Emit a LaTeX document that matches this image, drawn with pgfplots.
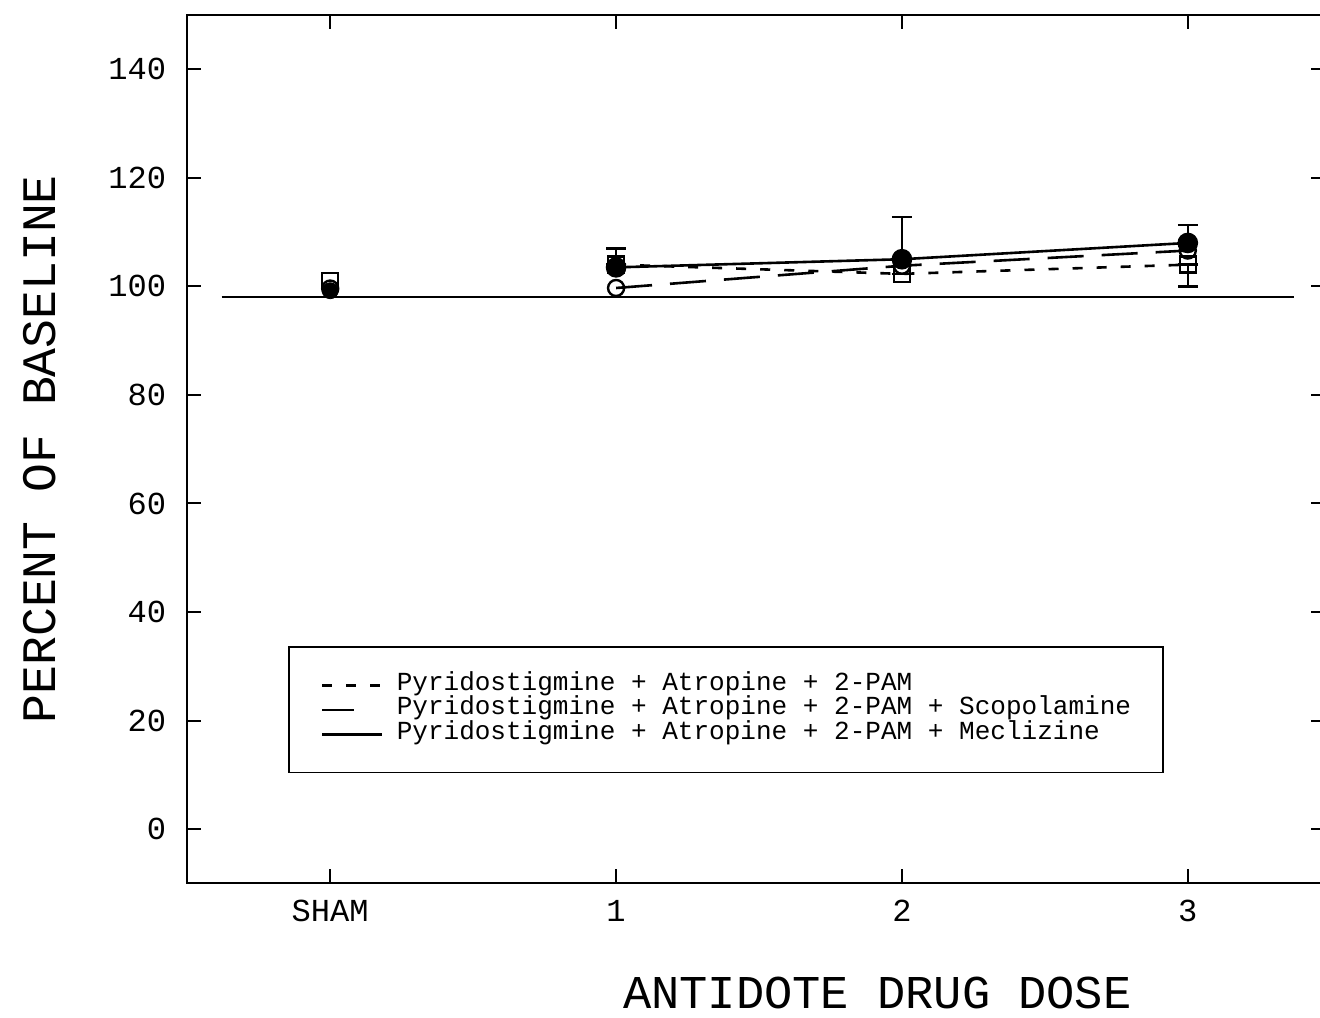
\documentclass[border=0pt]{standalone}
\usepackage{fontspec}
\setmainfont{Liberation Mono}
\setmonofont{Liberation Mono}
\usepackage{pgfplots}
\pgfplotsset{compat=1.18}
\begin{document}
\begin{tikzpicture}
\begin{axis}[
  scale only axis, width=568pt, height=433.5pt,
  at={(0pt,0pt)}, anchor=south west,
  xmin=-0.5, xmax=3.48, ymin=-10, ymax=150,
  xtick={0,1,2,3}, xticklabels={SHAM,1,2,3},
  ytick={0,20,40,60,80,100,120,140},
  xtick pos=both, ytick pos=both,
  xticklabel pos=lower, yticklabel pos=left,
  tick align=inside, major tick length=7pt,
  axis line style={line width=1pt},
  every tick/.style={black, line width=1pt},
  /pgf/number format/assume math mode=true,
  ticklabel style={font=\fontsize{16}{16}\selectfont},
  yticklabel style={xshift=-7pt},
  xticklabel style={yshift=-5pt},
  legend cell align=left,
  legend image code/.code={\draw[#1] (0pt,0pt) -- (30pt,0pt);},
  legend style={at={(axis cs:-0.147,33.7)}, anchor=north west, draw=black, line width=0.8pt,
    font=\fontsize{13}{13}\selectfont, inner xsep=16pt, inner ysep=13pt,
    nodes={inner sep=0pt, text height=8.5pt, text depth=3.75pt},
    /tikz/every odd column/.append style={column sep=6.5pt}},
]
% baseline reference line
\addplot[black, line width=1pt, forget plot] coordinates {(-0.38,98) (3.37,98)};
% SHAM points
\addplot[black, only marks, mark=square, mark size=4pt, mark options={line width=1.2pt}, forget plot] coordinates {(0,101)};
\addplot[black, only marks, mark=*, mark size=4pt, forget plot] coordinates {(0,99.2)};
\addplot[black, only marks, mark=o, mark size=4pt, mark options={line width=1.2pt}, forget plot] coordinates {(0,99.6)};
% Pyridostigmine + Atropine + 2-PAM
\addplot[black, line width=1.3pt, dash pattern=on 5pt off 7pt, mark=square, mark size=4pt,
  mark options={solid, line width=1.2pt},
  legend image code/.code={\draw[black, line width=1.3pt, dash pattern=on 5pt off 7pt] (0pt,0pt) -- (30pt,0pt);},
  error bars/.cd, y dir=both, y explicit,
  error bar style={solid, line width=1.2pt},
  error mark options={rotate=90, mark size=5pt, line width=1.2pt}]
  coordinates {(1,104) += (0,3) -= (0,0) (2,102.3) += (0,0) -= (0,0) (3,104) += (0,0) -= (0,4)};
\addlegendentry{Pyridostigmine + Atropine + 2-PAM}
% + Scopolamine
\addplot[black, line width=1.3pt, dash pattern=on 18pt off 9pt, mark=o, mark size=4pt,
  mark options={solid, line width=1.2pt},
  legend image code/.code={\draw[black, line width=1.3pt] (0pt,0pt) -- (16pt,0pt); \path (30pt,0pt);}]
  coordinates {(1,99.7) (2,103.8) (3,106.6)};
\addlegendentry{Pyridostigmine + Atropine + 2-PAM + Scopolamine}
% + Meclizine
\addplot[black, line width=1.3pt, mark=*, mark size=4.5pt,
  legend image code/.code={\draw[black, line width=1.3pt] (0pt,0pt) -- (30pt,0pt);},
  error bars/.cd, y dir=both, y explicit,
  error bar style={solid, line width=1.2pt},
  error mark options={rotate=90, mark size=5pt, line width=1.2pt}]
  coordinates {(1,103.5) += (0,0) -= (0,0) (2,105) += (0,7.8) -= (0,0) (3,108) += (0,3.3) -= (0,0)};
\addlegendentry{Pyridostigmine + Atropine + 2-PAM + Meclizine}
\end{axis}
\node[rotate=90, font=\fontsize{24}{24}\selectfont] at (-73.5pt,216.75pt) {PERCENT OF BASELINE};
\node[font=\fontsize{23.5}{23.5}\selectfont, inner sep=0pt] at (344.5pt,-54.5pt) {ANTIDOTE DRUG DOSE};
\pgfresetboundingbox
\path (-93.5pt,-67.2pt) rectangle (565.5pt,441pt);
\end{tikzpicture}
\end{document}
